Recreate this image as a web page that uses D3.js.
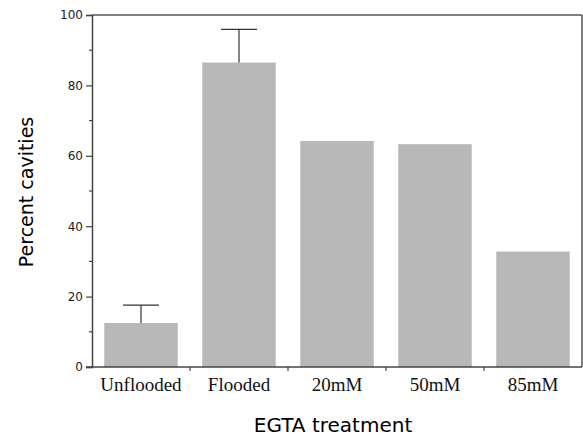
<!DOCTYPE html>
<html>
<head>
  <style>
    body { margin: 0; background: #fff; }
    .ytick text { font-family: "DejaVu Sans", sans-serif; font-size: 12px; fill: #222; }
    .xtick text { font-family: "Liberation Serif", serif; font-size: 19px; fill: #111; }
  </style>
</head>
<body>
<svg width="583" height="437"></svg>
<script src="https://d3js.org/d3.v7.min.js"></script>
<script>
  var categories = ['Unflooded', 'Flooded', '20mM', '50mM', '85mM']
  var values = [12.5, 86.5, 64.2, 63.3, 32.8]
  var errors = [5.1, 9.4, 0, 0, 0]
  var yTicks = [0, 20, 40, 60, 80, 100]
  var yMinor = [10, 30, 50, 70, 90]

  var svg = d3.select('svg'),
    margin = {top: 15, right: 1, bottom: 70, left: 92},
    width = +svg.attr('width') - margin.left - margin.right,
    height = 367 - margin.top,
    g = svg.append('g').attr('transform', 'translate(' + margin.left + ',' + margin.top + ')')

  var x = d3.scaleBand().domain(categories).range([0, width]).paddingInner(0.25).paddingOuter(0.125)
  var y = d3.scaleLinear().domain([0, 100]).range([height, 0])

  // bars
  g.selectAll('.bar')
    .data(values)
    .enter().append('rect')
    .attr('x', function (d, i) { return x(categories[i]) })
    .attr('y', function (d) { return y(d) })
    .attr('width', x.bandwidth())
    .attr('height', function (d) { return height - y(d) })
    .attr('fill', '#b8b8b8')

  // error bars (upper only)
  var eb = g.selectAll('.err')
    .data(values.map(function (v, i) { return {c: categories[i], v: v, e: errors[i]} }).filter(function (d) { return d.e > 0 }))
    .enter().append('g')
  eb.append('line')
    .attr('x1', function (d) { return x(d.c) + x.bandwidth() / 2 })
    .attr('x2', function (d) { return x(d.c) + x.bandwidth() / 2 })
    .attr('y1', function (d) { return y(d.v) })
    .attr('y2', function (d) { return y(d.v + d.e) })
    .attr('stroke', '#333').attr('stroke-width', 1.2)
  eb.append('line')
    .attr('x1', function (d) { return x(d.c) + x.bandwidth() / 2 - 18 })
    .attr('x2', function (d) { return x(d.c) + x.bandwidth() / 2 + 18 })
    .attr('y1', function (d) { return y(d.v + d.e) })
    .attr('y2', function (d) { return y(d.v + d.e) })
    .attr('stroke', '#333').attr('stroke-width', 1.2)

  // frame top + right
  g.append('line').attr('x1', 0).attr('x2', width).attr('y1', 0).attr('y2', 0)
    .attr('stroke', '#555').attr('stroke-width', 1.5)
  g.append('line').attr('x1', width).attr('x2', width).attr('y1', 0).attr('y2', height)
    .attr('stroke', '#555').attr('stroke-width', 1.5)

  // y axis
  var ya = g.append('g').attr('class', 'ytick')
    .call(d3.axisLeft(y).tickValues(yTicks).tickSize(6).tickPadding(3))
  ya.select('.domain').attr('stroke', '#444').attr('stroke-width', 1.5)
  ya.selectAll('line').attr('stroke', '#444').attr('stroke-width', 1.2)
  g.append('g').selectAll('line').data(yMinor).enter().append('line')
    .attr('x1', -3).attr('x2', 0)
    .attr('y1', function (d) { return y(d) }).attr('y2', function (d) { return y(d) })
    .attr('stroke', '#444').attr('stroke-width', 1.2)

  // x axis: ticks on band boundaries, labels centered
  var xa = g.append('g').attr('class', 'xtick').attr('transform', 'translate(0,' + height + ')')
  xa.append('line').attr('x1', -6).attr('x2', width).attr('stroke', '#444').attr('stroke-width', 1.5)
  xa.selectAll('.bt').data(categories.slice(1)).enter().append('line')
    .attr('x1', function (d) { return x(d) - x.step() * x.paddingInner() / 2 })
    .attr('x2', function (d) { return x(d) - x.step() * x.paddingInner() / 2 })
    .attr('y1', 0).attr('y2', 4)
    .attr('stroke', '#444').attr('stroke-width', 1.2)
  xa.selectAll('text').data(categories).enter().append('text')
    .attr('x', function (d) { return x(d) + x.bandwidth() / 2 })
    .attr('y', 24)
    .attr('text-anchor', 'middle')
    .text(function (d) { return d })

  svg.append('text')
    .attr('x', 333).attr('y', 432)
    .attr('text-anchor', 'middle')
    .attr('font-family', '"DejaVu Sans", sans-serif').attr('font-size', 20)
    .text('EGTA treatment')

  svg.append('text')
    .attr('transform', 'translate(33,192) rotate(-90)')
    .attr('text-anchor', 'middle')
    .attr('font-family', '"DejaVu Sans", sans-serif').attr('font-size', 19)
    .text('Percent cavities')
</script>
</body>
</html>
